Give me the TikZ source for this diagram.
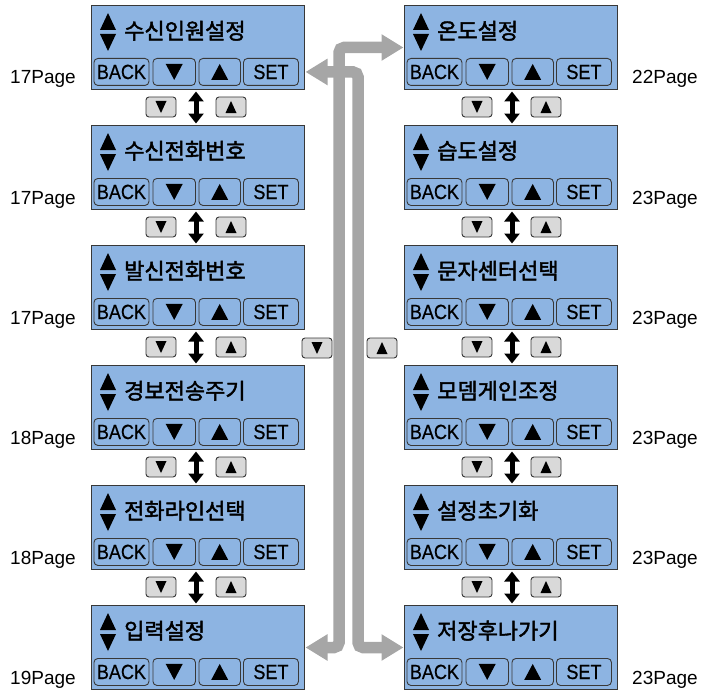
\documentclass[tikz,border=0pt]{standalone}
\usepackage{fontspec}
\setmainfont{Liberation Sans}
\newfontfamily\kr{Noto Sans CJK KR}[FakeBold=2]
\newfontfamily\btnfont{Liberation Sans}[FakeStretch=0.88, FakeBold=0.6]
\usetikzlibrary{arrows.meta,calc}
\definecolor{panelblue}{HTML}{8DB4E2}
\definecolor{connGray}{HTML}{A6A6A6}
\definecolor{keyGray}{HTML}{D9D9D9}
\definecolor{edgeC}{HTML}{383838}

\newcommand\mkpanel[6]{%
  \node[panel] (#1) at (#2,#3) {};
  \fill (#2+9,#3+25) -- (#2+25,#3+25) -- (#2+17,#3+8) -- cycle;
  \fill (#2+9,#3+29) -- (#2+25,#3+29) -- (#2+17,#3+46) -- cycle;
  \node[titletext] (#1t) at (#2+33,#3+34) {#4};
  \node[btn, minimum width=55pt] (#1b1) at (#2+2.5,#3+53) {BACK};
  \node[btn, minimum width=42.5pt] (#1b2) at (#2+61.5,#3+53) {};
  \node[btn, minimum width=41.5pt] (#1b3) at (#2+107.5,#3+53) {};
  \node[btn, minimum width=55pt] (#1b4) at (#2+152,#3+53) {SET};
  \fill ($(#1b2.center)+(-8.5,-8)$) -- ++(17,0) -- ++(-8.5,16) -- cycle;
  \fill ($(#1b3.center)+(-8.5,8)$) -- ++(17,0) -- ++(-8.5,-16) -- cycle;
  \node[pagelbl] (#1p) at (#6,#3+79) {#5};
}
\newcommand\mkkeys[4]{% name, xdown, xup, ycenter
  \node[keybox] (#1d) at (#2,#4) {};
  \node[keybox] (#1u) at (#3,#4) {};
  \fill ($(#1d.center)+(-5.5,-6)$) -- ++(11,0) -- ++(-5.5,12) -- cycle;
  \fill ($(#1u.center)+(-5.5,6)$) -- ++(11,0) -- ++(-5.5,-12) -- cycle;
}

\begin{document}
\begin{tikzpicture}[x=1pt,y=-1pt,
  panel/.style={draw=edgeC, line width=1pt, fill=panelblue, minimum width=213pt, minimum height=84pt, anchor=north west, inner sep=0pt},
  btn/.style={draw=edgeC, line width=0.9pt, rounded corners=4pt, fill=panelblue, minimum height=27pt, anchor=north west, inner sep=0pt, font=\btnfont\fontsize{20.5}{20.5}\selectfont},
  keybox/.style={draw=edgeC, line width=0.9pt, rounded corners=3pt, fill=keyGray, minimum width=30pt, minimum height=20pt, inner sep=0pt},
  titletext/.style={anchor=base west, inner sep=0pt, font=\kr\fontsize{22}{22}\selectfont},
  pagelbl/.style={anchor=base west, inner sep=0pt, font=\fontsize{19}{19}\selectfont},
  dbl/.style={line width=5pt, {Triangle[length=10pt,width=15pt]}-{Triangle[length=10pt,width=15pt]}, shorten <=1.5pt, shorten >=1.5pt},
  conn/.style={draw=connGray, line width=11.5pt, rounded corners=5pt, {Triangle[length=22pt,width=25pt]}-{Triangle[length=22pt,width=25pt]}, shorten <=0.5pt, shorten >=0.5pt}
]
\useasboundingbox (0,0) rectangle (702,693);

% left column
\mkpanel{pL1}{91}{5}{수신인원설정}{17Page}{10}
\mkpanel{pL2}{91}{125}{수신전화번호}{17Page}{10}
\mkpanel{pL3}{91}{245}{발신전화번호}{17Page}{10}
\mkpanel{pL4}{91}{365}{경보전송주기}{18Page}{10}
\mkpanel{pL5}{91}{485}{전화라인선택}{18Page}{10}
\mkpanel{pL6}{91}{605}{입력설정}{19Page}{10}
% right column
\mkpanel{pR1}{404}{5}{온도설정}{22Page}{632}
\mkpanel{pR2}{404}{125}{습도설정}{23Page}{632}
\mkpanel{pR3}{404}{245}{문자센터선택}{23Page}{632}
\mkpanel{pR4}{404}{365}{모뎀게인조정}{23Page}{632}
\mkpanel{pR5}{404}{485}{설정초기화}{23Page}{632}
\mkpanel{pR6}{404}{605}{저장후나가기}{23Page}{632}

\coordinate (xl) at (196,0);
\coordinate (xr) at (512,0);
\foreach \a/\b/\y in {1/2/107,2/3/227,3/4/347,4/5/467,5/6/587}{
  \mkkeys{kL\a}{161}{231}{\y}
  \mkkeys{kR\a}{477}{546}{\y}
  \draw[dbl] (pL\a.south -| xl) -- (pL\b.north -| xl);
  \draw[dbl] (pR\a.south -| xr) -- (pR\b.north -| xr);
}

% keys between columns
\mkkeys{kM}{317}{382}{348}

% gray connectors
\coordinate (vA) at (339,0);
\coordinate (vB) at (358,0);
\draw[conn] (pL6.east) -- (pL6.east -| vA) -- (pR1.west -| vA) -- (pR1.west);
\draw[conn] (pL1b4.east -| pL1.east) -- (pL1b4.east -| vB) -- (pR6.west -| vB) -- (pR6.west);
\end{tikzpicture}
\end{document}
